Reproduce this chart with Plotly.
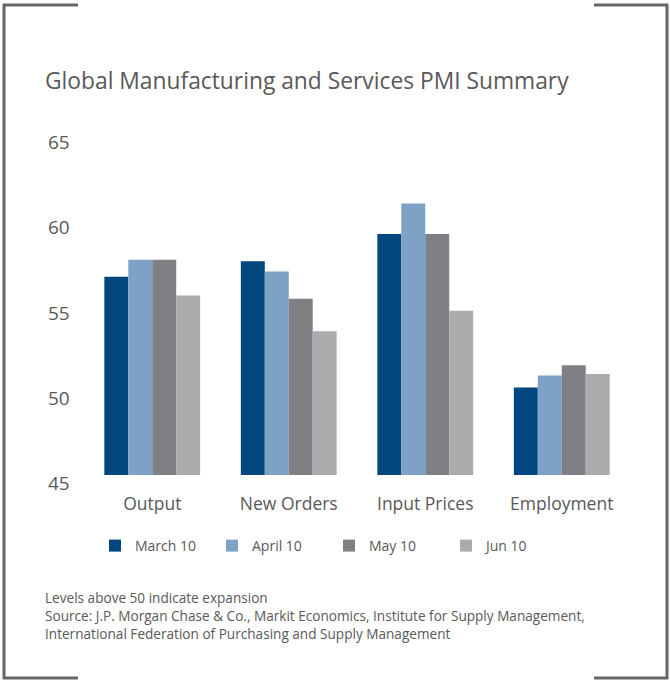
import plotly.graph_objects as go

categories = ["Output", "New Orders", "Input Prices", "Employment"]
series_names = ["March 10", "April 10", "May 10", "Jun 10"]
march = [57.1, 58.0, 59.6, 50.6]
april = [58.1, 57.4, 61.4, 51.3]
may = [58.1, 55.8, 59.6, 51.9]
jun = [56.0, 53.9, 55.1, 51.4]
colors = ["#00467f", "#7ea2c5", "#807f84", "#aaabad"]
ytick_vals = [45, 50, 55, 60, 65]
ytick_text = ["45", "50", "55", "60", "65"]

W, H = 670, 681
L, R, T, B = 84, 40, 130, 206
PW, PH = W - L - R, H - T - B
PXU = 17.05
YMIN = 45.47
YMAX = YMIN + PH / PXU
FONT = "Open Sans"
TXT = "#595959"

def px(p):
    return (p - L) / PW

def py(p):
    return (H - B - p) / PH

def vy(v):
    return (v - YMIN) / (YMAX - YMIN)

fig = go.Figure()
for name, vals, c in zip(series_names, [march, april, may, jun], colors):
    fig.add_trace(go.Bar(x=categories, y=vals, name=name, marker=dict(color=c, line=dict(width=0))))

annotations = []
for v, t in zip(ytick_vals, ytick_text):
    annotations.append(dict(x=px(59), y=vy(v), xref="paper", yref="paper", text=t, showarrow=False,
                            xanchor="center", yanchor="middle",
                            font=dict(family=FONT, size=19, color=TXT)))
annotations.append(dict(x=px(43), y=py(80), xref="paper", yref="paper",
                        text="Global Manufacturing and Services PMI Summary", showarrow=False,
                        xanchor="left", yanchor="middle", font=dict(family=FONT, size=22.8, color=TXT)))
footer = ["Levels above 50 indicate expansion",
          "Source: J.P. Morgan Chase &amp; Co., Markit Economics, Institute for Supply Management,",
          "International Federation of Purchasing and Supply Management"]
for i, line in enumerate(footer):
    annotations.append(dict(x=px(43), y=py(597 + 18 * i), xref="paper", yref="paper",
                            text=line, showarrow=False, xanchor="left", yanchor="middle",
                            font=dict(family=FONT, size=13.6, color=TXT)))

lc = "#666666"
shapes = [
    dict(type="line", xref="paper", yref="paper", x0=px(4), x1=px(4), y0=py(4), y1=py(679), line=dict(color=lc, width=3)),
    dict(type="line", xref="paper", yref="paper", x0=px(667), x1=px(667), y0=py(4), y1=py(679), line=dict(color=lc, width=3)),
    dict(type="line", xref="paper", yref="paper", x0=px(3), x1=px(78), y0=py(5), y1=py(5), line=dict(color=lc, width=3)),
    dict(type="line", xref="paper", yref="paper", x0=px(594), x1=px(668), y0=py(5), y1=py(5), line=dict(color=lc, width=3)),
    dict(type="line", xref="paper", yref="paper", x0=px(3), x1=px(78), y0=py(678), y1=py(678), line=dict(color=lc, width=3)),
    dict(type="line", xref="paper", yref="paper", x0=px(594), x1=px(668), y0=py(678), y1=py(678), line=dict(color=lc, width=3)),
]

fig.update_layout(
    width=W, height=H,
    margin=dict(l=L, r=R, t=T, b=B, pad=0),
    paper_bgcolor="white", plot_bgcolor="white",
    barmode="group", bargap=0.298, bargroupgap=0,
    font=dict(family=FONT, color=TXT),
    xaxis=dict(showgrid=False, showline=False, zeroline=False, ticks="",
               tickfont=dict(family=FONT, size=17.5, color=TXT), ticklabelstandoff=16),
    yaxis=dict(range=[YMIN, YMAX], showgrid=False, showline=False, zeroline=False,
               showticklabels=False, ticks=""),
    legend=dict(orientation="h", x=px(95), y=py(546), xanchor="left", yanchor="middle",
                entrywidth=72, entrywidthmode="pixels",
                font=dict(family=FONT, size=14, color=TXT), bgcolor="rgba(0,0,0,0)",
                traceorder="normal"),
    annotations=annotations,
    shapes=shapes,
)

fig.write_html("out.html", config={"displayModeBar": False},
               post_script="document.body.style.margin='0';document.body.style.overflow='hidden';")
